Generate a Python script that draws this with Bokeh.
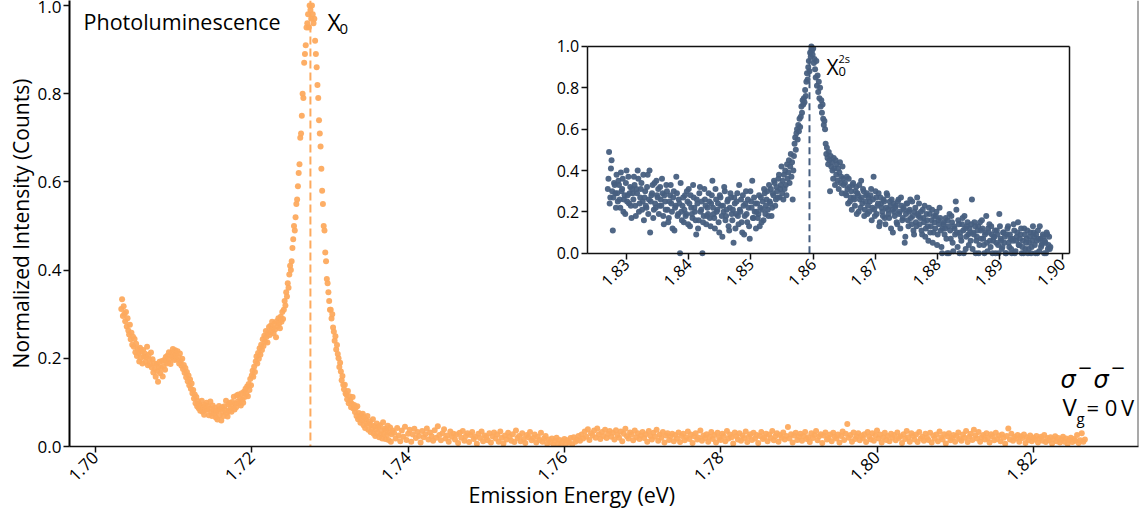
import math
from bokeh.plotting import figure
from bokeh.models import Range1d, LinearAxis, FixedTicker, PrintfTickFormatter, Span, Label, Title
from bokeh.embed import file_html
from bokeh.resources import INLINE

# ---------------- data: main photoluminescence spectrum ----------------
pl_energy = [
1.7033,1.7034,1.7035,1.7036,1.7037,1.7038,1.7039,1.7040,1.7041,1.7042,
1.7043,1.7044,1.7045,1.7046,1.7047,1.7048,1.7049,1.7050,1.7051,1.7052,
1.7053,1.7054,1.7055,1.7056,1.7057,1.7058,1.7059,1.7060,1.7061,1.7062,
1.7063,1.7064,1.7065,1.7066,1.7067,1.7068,1.7069,1.7070,1.7071,1.7072,
1.7073,1.7074,1.7075,1.7076,1.7077,1.7078,1.7079,1.7080,1.7081,1.7082,
1.7083,1.7084,1.7085,1.7086,1.7087,1.7088,1.7089,1.7090,1.7091,1.7092,
1.7093,1.7094,1.7095,1.7096,1.7097,1.7098,1.7099,1.7100,1.7101,1.7102,
1.7103,1.7104,1.7105,1.7106,1.7107,1.7108,1.7109,1.7110,1.7111,1.7112,
1.7113,1.7114,1.7115,1.7116,1.7117,1.7118,1.7119,1.7120,1.7121,1.7122,
1.7123,1.7124,1.7125,1.7126,1.7127,1.7128,1.7129,1.7130,1.7131,1.7132,
1.7133,1.7134,1.7135,1.7136,1.7137,1.7138,1.7139,1.7140,1.7141,1.7142,
1.7143,1.7144,1.7145,1.7146,1.7147,1.7148,1.7149,1.7150,1.7151,1.7152,
1.7153,1.7154,1.7155,1.7156,1.7157,1.7158,1.7159,1.7160,1.7161,1.7162,
1.7163,1.7164,1.7165,1.7166,1.7167,1.7168,1.7169,1.7170,1.7171,1.7172,
1.7173,1.7174,1.7175,1.7176,1.7177,1.7178,1.7179,1.7180,1.7181,1.7182,
1.7183,1.7184,1.7185,1.7186,1.7187,1.7188,1.7189,1.7190,1.7191,1.7192,
1.7193,1.7194,1.7195,1.7196,1.7197,1.7198,1.7199,1.7200,1.7201,1.7202,
1.7203,1.7204,1.7205,1.7206,1.7207,1.7208,1.7209,1.7210,1.7211,1.7212,
1.7213,1.7214,1.7215,1.7216,1.7217,1.7218,1.7219,1.7220,1.7221,1.7222,
1.7223,1.7224,1.7225,1.7226,1.7227,1.7228,1.7229,1.7230,1.7231,1.7232,
1.7233,1.7234,1.7235,1.7236,1.7237,1.7238,1.7239,1.7240,
1.7241,1.7242,1.7243,1.7244,1.7245,1.7246,1.7247,1.7248,1.7249,1.7250,
1.7251,1.7252,1.7253,1.7254,1.7255,1.7256,1.7257,1.7258,1.7259,1.7260,
1.7261,1.7262,1.7263,1.7264,1.7265,1.7266,1.7267,1.7268,1.7269,1.7270,
1.7271,1.7272,1.7273,1.7274,1.7275,1.7276,1.7277,1.7278,1.7279,1.7280,
1.7281,1.7282,1.7283,1.7284,1.7285,1.7286,1.7287,1.7288,1.7289,1.7290,
1.7291,1.7292,1.7293,1.7294,1.7295,1.7296,1.7297,1.7298,1.7299,1.7300,
1.7301,1.7302,1.7303,1.7304,1.7305,1.7306,1.7307,1.7308,1.7309,1.7310,
1.7311,1.7312,1.7313,1.7314,1.7315,1.7316,1.7317,1.7318,1.7319,1.7320,
1.7321,1.7322,1.7323,1.7324,1.7325,1.7326,1.7327,1.7328,1.7329,1.7330,
1.7331,1.7332,1.7333,1.7334,1.7335,1.7336,1.7337,1.7338,1.7339,1.7340,
1.7341,1.7342,1.7343,1.7344,1.7345,1.7346,1.7347,1.7348,1.7349,1.7350,
1.7351,1.7352,1.7353,1.7354,1.7355,1.7356,1.7357,1.7358,1.7359,1.7360,
1.7361,1.7362,1.7363,1.7364,1.7365,1.7366,1.7367,1.7368,1.7369,1.7370,
1.7371,1.7372,1.7373,1.7374,1.7375,1.7376,1.7377,1.7378,1.7379,1.7380,
1.7382,1.7384,1.7386,1.7388,1.7390,1.7392,1.7394,1.7396,1.7398,1.7400,1.7402,1.7404,1.7406,1.7408,1.7410,1.7412,1.7414,1.7416,1.7418,1.7420,
1.7422,1.7424,1.7426,1.7428,1.7430,1.7432,1.7434,1.7436,1.7438,1.7440,1.7442,1.7444,1.7446,1.7448,1.7450,1.7452,1.7454,1.7456,1.7458,1.7460,
1.7462,1.7464,1.7466,1.7468,1.7470,1.7472,1.7474,1.7476,1.7478,1.7480,1.7482,1.7484,1.7486,1.7488,1.7490,1.7492,1.7494,1.7496,1.7498,1.7500,
1.7502,1.7504,1.7506,1.7508,1.7510,1.7512,1.7514,1.7516,1.7518,1.7520,1.7522,1.7524,1.7526,1.7528,1.7530,1.7532,1.7534,1.7536,1.7538,1.7540,
1.7542,1.7544,1.7546,1.7548,1.7550,1.7552,1.7554,1.7556,1.7558,1.7560,1.7562,1.7564,1.7566,1.7568,1.7570,1.7572,1.7574,1.7576,1.7578,1.7580,
1.7582,1.7584,1.7586,1.7588,1.7590,1.7592,1.7594,1.7596,1.7598,1.7600,1.7602,1.7604,1.7606,1.7608,1.7610,1.7612,1.7614,1.7616,1.7618,1.7620,
1.7622,1.7624,1.7626,1.7628,1.7630,1.7632,1.7634,1.7636,1.7638,1.7640,1.7642,1.7644,1.7646,1.7648,1.7650,1.7652,1.7654,1.7656,1.7658,1.7660,
1.7662,1.7664,1.7666,1.7668,1.7670,1.7672,1.7674,1.7676,1.7678,1.7680,1.7682,1.7684,1.7686,1.7688,1.7690,1.7692,1.7694,1.7696,1.7698,1.7700,
1.7702,1.7704,1.7706,1.7708,1.7710,1.7712,1.7714,1.7716,1.7718,1.7720,1.7722,1.7724,1.7726,1.7728,1.7730,1.7732,1.7734,1.7736,1.7738,1.7740,
1.7742,1.7744,1.7746,1.7748,1.7750,1.7752,1.7754,1.7756,1.7758,1.7760,1.7762,1.7764,1.7766,1.7768,1.7770,1.7772,1.7774,1.7776,1.7778,1.7780,
1.7782,1.7784,1.7786,1.7788,1.7790,1.7792,1.7794,1.7796,1.7798,1.7800,1.7802,1.7804,1.7806,1.7808,1.7810,1.7812,1.7814,1.7816,1.7818,1.7820,
1.7822,1.7824,1.7826,1.7828,1.7830,1.7832,1.7834,1.7836,1.7838,1.7840,1.7842,1.7844,1.7846,1.7848,1.7850,1.7852,1.7854,1.7856,1.7858,1.7860,
1.7862,1.7864,1.7866,1.7868,1.7870,1.7872,1.7874,1.7876,1.7878,1.7880,1.7882,1.7884,1.7886,1.7888,1.7890,1.7892,1.7894,1.7896,1.7898,1.7900,
1.7902,1.7904,1.7906,1.7908,1.7910,1.7912,1.7914,1.7916,1.7918,1.7920,1.7922,1.7924,1.7926,1.7928,1.7930,1.7932,1.7934,1.7936,1.7938,1.7940,
1.7942,1.7944,1.7946,1.7948,1.7950,1.7952,1.7954,1.7956,1.7958,1.7960,1.7962,1.7964,1.7966,1.7968,1.7970,1.7972,1.7974,1.7976,1.7978,1.7980,
1.7982,1.7984,1.7986,1.7988,1.7990,1.7992,1.7994,1.7996,1.7998,1.8000,1.8002,1.8004,1.8006,1.8008,1.8010,1.8012,1.8014,1.8016,1.8018,1.8020,
1.8022,1.8024,1.8026,1.8028,1.8030,1.8032,1.8034,1.8036,1.8038,1.8040,1.8042,1.8044,1.8046,1.8048,1.8050,1.8052,1.8054,1.8056,1.8058,1.8060,
1.8062,1.8064,1.8066,1.8068,1.8070,1.8072,1.8074,1.8076,1.8078,1.8080,1.8082,1.8084,1.8086,1.8088,1.8090,1.8092,1.8094,1.8096,1.8098,1.8100,
1.8102,1.8104,1.8106,1.8108,1.8110,1.8112,1.8114,1.8116,1.8118,1.8120,1.8122,1.8124,1.8126,1.8128,1.8130,1.8132,1.8134,1.8136,1.8138,1.8140,
1.8142,1.8144,1.8146,1.8148,1.8150,1.8152,1.8154,1.8156,1.8158,1.8160,1.8162,1.8164,1.8166,1.8168,1.8170,1.8172,1.8174,1.8176,1.8178,1.8180,
1.8182,1.8184,1.8186,1.8188,1.8190,1.8192,1.8194,1.8196,1.8198,1.8200,1.8202,1.8204,1.8206,1.8208,1.8210,1.8212,1.8214,1.8216,1.8218,1.8220,
1.8222,1.8224,1.8226,1.8228,1.8230,1.8232,1.8234,1.8236,1.8238,1.8240,1.8242,1.8244,1.8246,1.8248,1.8250,1.8252,1.8254,1.8256,1.8258,1.8260,
1.8262,1.8264,1.8266,
]

pl_intensity = [
.312,.334,.296,.318,.301,.284,.305,.272,.291,.263,
.254,.276,.243,.258,.231,.249,.226,.244,.214,.233,
.205,.221,.212,.193,.224,.201,.215,.188,.219,.204,
.211,.192,.203,.226,.184,.208,.197,.186,.213,.179,
.198,.168,.189,.176,.158,.187,.171,.147,.181,.192,
.166,.178,.194,.159,.182,.196,.174,.203,.188,.206,
.191,.214,.198,.187,.212,.203,.221,.207,.196,.218,
.209,.197,.216,.203,.188,.211,.194,.183,.199,.176,
.185,.167,.178,.157,.169,.148,.161,.139,.152,.131,
.143,.121,.128,.109,.118,.098,.112,.091,.103,.087,
.096,.081,.092,.104,.079,.088,.072,.094,.083,.099,
.084,.091,.071,.086,.102,.077,.069,.093,.081,.074,
.088,.066,.079,.061,.083,.092,.071,.085,.059,.089,
.078,.069,.091,.082,.104,.076,.068,.095,.081,.099,
.087,.079,.101,.092,.113,.084,.097,.089,.116,.102,
.118,.098,.109,.093,.121,.106,.099,.124,.112,.131,
.119,.136,.114,.142,.128,.153,.139,.161,.172,.158,
.181,.169,.193,.204,.188,.212,.199,.223,.208,.231,
.219,.243,.228,.251,.238,.262,.249,.236,.258,.271,
.253,.274,.261,.283,.268,.257,.279,.266,.248,.284,
.272,.291,.279,.268,.294,.283,.305,.289,
.31,.33,.32,.35,.34,.37,.36,.39,.41,.40,
.42,.45,.47,.50,.49,.52,.55,.56,.59,.62,
.64,.70,.71,.75,.80,.79,.87,.89,.91,.95,
.96,.98,.95,1.0,.99,.97,1.0,.98,.96,.97,
.92,.89,.86,.82,.79,.74,.71,.68,.63,.58,
.55,.50,.49,.44,.42,.38,.37,.35,.33,.31,
.31,.29,.30,.27,.26,.24,.25,.22,.23,.21,
.20,.18,.19,.17,.15,.16,.14,.13,.14,.12,
.118,.107,.126,.098,.114,.103,.089,.097,.112,.086,
.094,.078,.088,.069,.091,.062,.076,.067,.054,.071,
.059,.074,.048,.066,.042,.061,.053,.069,.038,.051,
.057,.033,.049,.041,.062,.029,.046,.024,.039,.052,
.031,.044,.021,.048,.027,.036,.018,.055,.029,.041,
.017,.038,.026,.047,.015,.032,.043,.011,.028,.036,
.031,.018,.042,.025,.012,.036,.022,.045,.015,.029,.038,.011,.027,.040,.019,.033,.024,.009,.035,.021,
.028,.041,.016,.032,.024,.013,.037,.020,.046,.026,.014,.030,.039,.018,.025,.011,.034,.022,.029,.016,
.027,.008,.031,.020,.035,.013,.024,.030,.010,.026,.033,.017,.022,.006,.029,.019,.034,.012,.025,.021,
.014,.030,.009,.023,.032,.018,.027,.011,.034,.020,.007,.025,.016,.031,.022,.013,.028,.010,.036,.019,
.024,.012,.030,.017,.008,.026,.021,.033,.014,.019,.027,.009,.022,.015,.031,.011,.018,.024,.006,.016,
.010,.018,.004,.013,.020,.007,.015,.003,.012,.017,.006,.014,.009,.019,.005,.021,.011,.016,.024,.013,
.027,.018,.034,.022,.039,.015,.030,.025,.036,.020,.041,.028,.017,.033,.024,.038,.019,.029,.035,.022,
.031,.016,.037,.026,.020,.034,.012,.029,.040,.023,.018,.032,.027,.014,.036,.021,.030,.017,.025,.033,
.019,.028,.011,.035,.024,.016,.031,.022,.038,.013,.027,.020,.033,.009,.025,.030,.015,.023,.029,.012,
.026,.018,.032,.010,.024,.029,.014,.021,.034,.017,.027,.008,.023,.030,.016,.020,.036,.013,.025,.019,
.028,.011,.022,.033,.017,.026,.009,.031,.020,.015,.029,.024,.012,.035,.018,.027,.021,.007,.032,.023,
.016,.030,.013,.025,.019,.034,.010,.022,.028,.015,.031,.018,.026,.008,.024,.033,.017,.021,.029,.012,
.027,.019,.035,.014,.023,.030,.011,.026,.020,.032,.016,.024,.044,.018,.028,.009,.025,.031,.015,.022,
.029,.013,.024,.033,.017,.021,.010,.030,.019,.026,.035,.014,.023,.028,.008,.025,.032,.016,.020,.027,
.012,.031,.022,.018,.027,.009,.024,.034,.015,.029,.051,.020,.026,.011,.032,.017,.023,.030,.014,.025,
.019,.028,.010,.033,.022,.016,.030,.013,.025,.036,.018,.027,.009,.021,.031,.015,.024,.012,.029,.020,
.026,.014,.032,.019,.023,.008,.028,.017,.035,.021,.011,.030,.024,.016,.027,.010,.033,.018,.022,.013,
.029,.020,.015,.031,.009,.025,.018,.027,.012,.034,.021,.016,.028,.007,.023,.030,.014,.019,.026,.011,
.024,.032,.017,.013,.027,.020,.035,.010,.022,.029,.015,.038,.025,.018,.033,.011,.021,.026,.016,.030,
.019,.009,.028,.023,.014,.031,.017,.025,.012,.027,.020,.006,.024,.041,.016,.029,.013,.022,.018,.026,
.011,.023,.019,.027,.008,.021,.015,.025,.012,.020,.016,.024,.009,.018,.022,.013,.026,.010,.019,.014,
.021,.007,.017,.023,.012,.019,.009,.016,.022,.011,.018,.006,.015,.020,.010,.017,.013,.026,.008,.014,
.030,.011,.016,
]

# ---------------- data: inset, 2s exciton region ----------------
s2_energy = [
1.8270,1.8272,1.8274,1.8276,1.8278,1.8280,1.8282,1.8284,1.8286,1.8288,1.8290,1.8292,1.8294,1.8296,1.8298,1.8300,1.8302,1.8304,1.8306,1.8308,
1.8310,1.8312,1.8314,1.8316,1.8318,1.8320,1.8322,1.8324,1.8326,1.8328,1.8330,1.8332,1.8334,1.8336,1.8338,1.8340,1.8342,1.8344,1.8346,1.8348,
1.8350,1.8352,1.8354,1.8356,1.8358,1.8360,1.8362,1.8364,1.8366,1.8368,1.8370,1.8372,1.8374,1.8376,1.8378,1.8380,1.8382,1.8384,1.8386,1.8388,
1.8390,1.8392,1.8394,1.8396,1.8398,1.8400,1.8402,1.8404,1.8406,1.8408,1.8410,1.8412,1.8414,1.8416,1.8418,1.8420,1.8422,1.8424,1.8426,1.8428,
1.8430,1.8432,1.8434,1.8436,1.8438,1.8440,1.8442,1.8444,1.8446,1.8448,1.8450,1.8452,1.8454,1.8456,1.8458,1.8460,1.8462,1.8464,1.8466,1.8468,
1.8470,1.8472,1.8474,1.8476,1.8478,1.8480,1.8482,1.8484,1.8486,1.8488,1.8490,1.8492,1.8494,1.8496,1.8498,1.8500,1.8502,1.8504,1.8506,1.8508,
1.8510,1.8512,1.8514,1.8516,1.8518,1.8520,1.8522,1.8524,1.8526,1.8528,1.8530,1.8532,1.8534,1.8536,1.8538,1.8540,1.8542,1.8544,1.8546,1.8548,
1.8550,1.8551,1.8552,1.8553,1.8554,1.8555,1.8556,1.8557,1.8558,1.8559,
1.8560,1.8561,1.8562,1.8563,1.8564,1.8565,1.8566,1.8567,1.8568,1.8569,
1.8570,1.8571,1.8572,1.8573,1.8574,1.8575,1.8576,1.8577,1.8578,1.8579,
1.8580,1.8581,1.8582,1.8583,1.8584,1.8585,1.8586,1.8587,1.8588,1.8589,
1.8590,1.8591,1.8592,1.8593,1.8594,1.8595,1.8596,1.8597,1.8598,1.8599,
1.8600,1.8601,1.8602,1.8603,1.8604,1.8605,1.8606,1.8607,1.8608,1.8609,
1.8610,1.8611,1.8612,1.8613,1.8614,1.8615,1.8616,1.8617,1.8618,1.8619,
1.8620,1.8621,1.8622,1.8623,1.8624,1.8625,1.8626,1.8627,1.8628,1.8629,
1.8630,1.8631,1.8632,1.8633,1.8634,1.8635,1.8636,1.8637,1.8638,1.8639,
1.8640,1.8641,1.8642,1.8643,1.8644,1.8645,1.8646,1.8647,1.8648,1.8649,
1.8651,1.8653,1.8655,1.8657,1.8659,1.8661,1.8663,1.8665,1.8667,1.8669,1.8671,1.8673,1.8675,1.8677,1.8679,1.8681,1.8683,1.8685,1.8687,1.8689,
1.8691,1.8693,1.8695,1.8697,1.8699,1.8701,1.8703,1.8705,1.8707,1.8709,1.8711,1.8713,1.8715,1.8717,1.8719,1.8721,1.8723,1.8725,1.8727,1.8729,
1.8731,1.8733,1.8735,1.8737,1.8739,1.8741,1.8743,1.8745,1.8747,1.8749,1.8751,1.8753,1.8755,1.8757,1.8759,1.8761,1.8763,1.8765,1.8767,1.8769,
1.8771,1.8773,1.8775,1.8777,1.8779,1.8781,1.8783,1.8785,1.8787,1.8789,1.8791,1.8793,1.8795,1.8797,1.8799,1.8801,1.8803,1.8805,1.8807,1.8809,
1.8811,1.8813,1.8815,1.8817,1.8819,1.8821,1.8823,1.8825,1.8827,1.8829,1.8831,1.8833,1.8835,1.8837,1.8839,1.8841,1.8843,1.8845,1.8847,1.8849,
1.8851,1.8853,1.8855,1.8857,1.8859,1.8861,1.8863,1.8865,1.8867,1.8869,1.8871,1.8873,1.8875,1.8877,1.8879,1.8881,1.8883,1.8885,1.8887,1.8889,
1.8891,1.8893,1.8895,1.8897,1.8899,1.8901,1.8903,1.8905,1.8907,1.8909,1.8911,1.8913,1.8915,1.8917,1.8919,1.8921,1.8923,1.8925,1.8927,1.8929,
1.8931,1.8933,1.8935,1.8937,1.8939,1.8941,1.8943,1.8945,1.8947,1.8949,1.8951,1.8953,1.8955,1.8957,1.8959,1.8961,1.8963,1.8965,1.8967,1.8969,
1.8971,1.8973,1.8975,1.8977,1.8979,1.8981,
1.8271,1.8273,1.8275,1.8277,1.8279,1.8281,1.8283,1.8285,1.8287,1.8289,1.8291,1.8293,1.8295,1.8297,1.8299,1.8301,1.8303,1.8305,1.8307,1.8309,
1.8311,1.8313,1.8315,1.8317,1.8319,1.8321,1.8323,1.8325,1.8327,1.8329,1.8331,1.8333,1.8335,1.8337,1.8339,1.8341,1.8343,1.8345,1.8347,1.8349,
1.8351,1.8353,1.8355,1.8357,1.8359,1.8361,1.8363,1.8365,1.8367,1.8369,1.8371,1.8373,1.8375,1.8377,1.8379,1.8381,1.8383,1.8385,1.8387,1.8389,
1.8391,1.8393,1.8395,1.8397,1.8399,1.8401,1.8403,1.8405,1.8407,1.8409,1.8411,1.8413,1.8415,1.8417,1.8419,1.8421,1.8423,1.8425,1.8427,1.8429,
1.8431,1.8433,1.8435,1.8437,1.8439,1.8441,1.8443,1.8445,1.8447,1.8449,1.8451,1.8453,1.8455,1.8457,1.8459,1.8461,1.8463,1.8465,1.8467,1.8469,
1.8471,1.8473,1.8475,1.8477,1.8479,1.8481,1.8483,1.8485,1.8487,1.8489,1.8491,1.8493,1.8495,1.8497,1.8499,1.8501,1.8503,1.8505,1.8507,1.8509,
1.8511,1.8513,1.8515,1.8517,1.8519,1.8521,1.8523,1.8525,1.8527,1.8529,1.8531,1.8533,1.8535,1.8537,1.8539,1.8541,1.8543,1.8545,1.8547,1.8549,
1.8652,1.8654,1.8656,1.8658,1.8660,1.8662,1.8664,1.8666,1.8668,1.8670,1.8672,1.8674,1.8676,1.8678,1.8680,1.8682,1.8684,1.8686,1.8688,1.8690,
1.8692,1.8694,1.8696,1.8698,1.8700,1.8702,1.8704,1.8706,1.8708,1.8710,1.8712,1.8714,1.8716,1.8718,1.8720,1.8722,1.8724,1.8726,1.8728,1.8730,
1.8732,1.8734,1.8736,1.8738,1.8740,1.8742,1.8744,1.8746,1.8748,1.8750,1.8752,1.8754,1.8756,1.8758,1.8760,1.8762,1.8764,1.8766,1.8768,1.8770,
1.8772,1.8774,1.8776,1.8778,1.8780,1.8782,1.8784,1.8786,1.8788,1.8790,1.8792,1.8794,1.8796,1.8798,1.8800,1.8802,1.8804,1.8806,1.8808,1.8810,
1.8812,1.8814,1.8816,1.8818,1.8820,1.8822,1.8824,1.8826,1.8828,1.8830,1.8832,1.8834,1.8836,1.8838,1.8840,1.8842,1.8844,1.8846,1.8848,1.8850,
1.8852,1.8854,1.8856,1.8858,1.8860,1.8862,1.8864,1.8866,1.8868,1.8870,1.8872,1.8874,1.8876,1.8878,1.8880,1.8882,1.8884,1.8886,1.8888,1.8890,
1.8892,1.8894,1.8896,1.8898,1.8900,1.8902,1.8904,1.8906,1.8908,1.8910,1.8912,1.8914,1.8916,1.8918,1.8920,1.8922,1.8924,1.8926,1.8928,1.8930,
1.8932,1.8934,1.8936,1.8938,1.8940,1.8942,1.8944,1.8946,1.8948,1.8950,1.8952,1.8954,1.8956,1.8958,1.8960,1.8962,1.8964,1.8966,1.8968,1.8970,
1.8972,1.8974,1.8976,1.8978,1.8980,
]

s2_intensity = [
.31,.49,.27,.45,.11,.34,.29,.38,.25,.33,.22,.30,.36,.26,.19,.40,.28,.24,.32,.17,
.29,.37,.23,.31,.40,.20,.27,.34,.25,.16,.30,.22,.38,.26,.10,.28,.33,.21,.24,.35,
.27,.19,.32,.23,.29,.14,.25,.33,.21,.17,.28,.24,.12,.30,.22,.37,.18,.26,.00,.20,
.23,.15,.28,.19,.25,.31,.13,.22,.17,.27,.20,.09,.24,.16,.32,.21,.00,.18,.26,.14,
.22,.29,.17,.24,.35,.19,.12,.26,.21,.15,.28,.23,.08,.20,.30,.18,.25,.13,.22,.27,
.16,.05,.24,.19,.29,.14,.21,.26,.10,.23,.18,.30,.15,.22,.07,.25,.35,.17,.20,.12,
.24,.19,.13,.27,.21,.16,.29,.23,.30,.18,.25,.31,.22,.28,.34,.26,.30,.36,.27,.33,
.29,.35,.26,.38,.31,.40,.33,.28,.43,.36,
.39,.45,.34,.42,.48,.37,.44,.26,.40,.47,
.53,.56,.50,.58,.60,.55,.62,.59,.65,.61,
.66,.71,.68,.74,.72,.75,.73,.79,.76,.83,
.87,.84,.90,.93,.88,.97,.95,1.0,.98,.96,
.99,.92,.94,.89,.85,.93,.81,.86,.78,.83,
.75,.80,.71,.74,.68,.72,.65,.62,.64,.60,
.53,.48,.51,.46,.43,.49,.45,.30,.47,.42,
.44,.40,.36,.46,.41,.33,.45,.38,.43,.35,
.41,.31,.39,.44,.34,.37,.29,.42,.36,.33,
.34,.28,.31,.36,.25,.30,.33,.27,.23,.32,.29,.20,.26,.35,.24,.30,.21,.28,.19,.27,
.25,.31,.22,.37,.18,.27,.23,.29,.15,.24,.20,.26,.17,.22,.28,.19,.25,.12,.21,.24,
.18,.23,.14,.26,.20,.27,.16,.22,.05,.19,.24,.13,.21,.17,.25,.11,.20,.15,.27,.18,
.14,.20,.09,.17,.23,.12,.16,.06,.19,.13,.21,.10,.15,.18,.04,.16,.22,.11,.00,.14,
.09,.17,.00,.13,.19,.07,.15,.01,.12,.25,.10,.16,.00,.08,.14,.11,.18,.02,.13,.09,
.12,.06,.26,.10,.15,.00,.08,.13,.04,.11,.16,.07,.00,.10,.05,.12,.14,.03,.09,.06,
.08,.00,.11,.04,.19,.07,.02,.10,.05,.00,.09,.13,.03,.07,.00,.06,.11,.01,.08,.15,
.04,.09,.00,.06,.12,.02,.07,.00,.05,.10,.03,.13,.08,.00,.06,.11,.01,.07,.04,.09,
.00,.05,.10,.02,.08,.03,
.36,.24,.41,.30,.27,.33,.22,.29,.35,.26,.39,.31,.20,.28,.34,.25,.37,.29,.23,.31,
.26,.33,.18,.29,.36,.24,.31,.21,.38,.27,.23,.32,.19,.40,.25,.29,.17,.34,.22,.28,
.31,.23,.26,.36,.18,.28,.21,.30,.15,.25,.33,.20,.27,.11,.23,.29,.19,.24,.34,.16,
.27,.21,.18,.30,.14,.24,.28,.19,.33,.22,.16,.26,.12,.29,.20,.25,.15,.31,.23,.18,
.19,.25,.13,.28,.22,.17,.31,.20,.24,.10,.27,.18,.23,.32,.16,.21,.26,.11,.29,.19,
.21,.27,.12,.25,.18,.33,.20,.15,.28,.09,.24,.19,.26,.13,.30,.22,.17,.27,.24,.20,
.17,.28,.22,.15,.25,.31,.19,.26,.21,.33,.24,.18,.29,.35,.23,.32,.27,.38,.31,.42,
.29,.37,.24,.32,.27,.21,.34,.26,.30,.19,.28,.33,.22,.27,.31,.18,.25,.29,.23,.20,
.28,.16,.26,.21,.30,.19,.24,.13,.27,.22,.18,.25,.14,.29,.21,.17,.23,.26,.10,.20,
.22,.15,.25,.19,.12,.23,.17,.21,.08,.24,.16,.20,.26,.14,.18,.09,.22,.13,.19,.24,
.17,.11,.21,.15,.08,.19,.13,.22,.10,.16,.05,.18,.12,.20,.09,.14,.17,.03,.12,.15,
.12,.07,.16,.00,.11,.18,.05,.13,.09,.21,.03,.14,.10,.06,.17,.00,.12,.08,.15,.04,
.10,.14,.02,.09,.13,.06,.11,.00,.15,.07,.12,.04,.09,.18,.01,.10,.06,.13,.00,.08,
.11,.05,.09,.00,.13,.06,.03,.10,.08,.00,.12,.05,.09,.02,.07,.14,.00,.06,.10,.04,
.07,.12,.03,.00,.09,.05,.11,.02,.08,.00,.06,.10,.04,.09,.00,.07,.13,.03,.05,.08,
.06,.00,.09,.04,.02,
]

# ---------------- ticks and reference energies ----------------
main_x_ticks = [1.70, 1.72, 1.74, 1.76, 1.78, 1.80, 1.82]
main_y_ticks = [0.0, 0.2, 0.4, 0.6, 0.8, 1.0]
inset_x_ticks = [1.83, 1.84, 1.85, 1.86, 1.87, 1.88, 1.89, 1.90]
inset_y_ticks = [0.0, 0.2, 0.4, 0.6, 0.8, 1.0]
x0_energy = 1.7275
x0_2s_energy = 1.8594

# ---------------- layout / style ----------------
ORANGE = "#fdaa5e"
SLATE = "#475f80"
FONT = "Open Sans"

MX0, MX1 = 1.696673, 1.833461
MY0, MY1 = 0.0, 1.01134
IX0, IX1 = 1.82369, 1.90122          # inset box (inset x units)
IY0, IY1 = 0.0, 1.0                  # inset box (inset y units)

p = figure(frame_width=1069, frame_height=446, output_backend="svg",
           toolbar_location=None, x_range=Range1d(MX0, MX1), y_range=Range1d(MY0, MY1),
           min_border_left=69, min_border_right=2, min_border_top=0, min_border_bottom=64,
           outline_line_color=None, background_fill_color="white", border_fill_color="white")
p.xgrid.visible = False
p.ygrid.visible = False

p.extra_x_ranges = {"ix": Range1d(1.740508, 1.912262)}
p.extra_y_ranges = {"iy": Range1d(-0.93517, 1.22254)}


def style_axis(ax, label_size="17px"):
    ax.major_tick_out = 6
    ax.major_tick_in = 0
    ax.minor_tick_line_color = None
    ax.major_tick_line_color = "#111111"
    ax.major_tick_line_width = 1.5
    ax.axis_line_color = "#111111"
    ax.axis_line_width = 1.5
    ax.major_label_text_font = FONT
    ax.major_label_text_font_size = label_size
    ax.major_label_text_color = "black"
    ax.axis_label_text_font = FONT
    ax.axis_label_text_font_size = "21px"
    ax.axis_label_text_font_style = "normal"
    ax.axis_label_text_color = "black"


xa = p.below[0]
ya = p.left[0]
style_axis(xa)
style_axis(ya)
xa.ticker = FixedTicker(ticks=main_x_ticks)
xa.formatter = PrintfTickFormatter(format="%.2f")
xa.major_label_orientation = math.pi / 4
xa.major_label_standoff = 2
ya.ticker = FixedTicker(ticks=main_y_ticks)
ya.formatter = PrintfTickFormatter(format="%.1f")
ya.major_label_standoff = 2
ya.axis_label = "Normalized Intensity (Counts)"
ya.axis_label_standoff = 0
ya.axis_line_color = "black"
ya.axis_line_width = 2

# x-axis title, placed in the panel below the axis, left-aligned with an offset
xtitle = Title(text="Emission Energy (eV)", align="left", offset=399, standoff=-23,
               text_font=FONT, text_font_size="21.5px", text_font_style="normal",
               text_color="black")
p.add_layout(xtitle, "below")

# right border of the main frame
rb = LinearAxis(fixed_location=MX1, ticker=FixedTicker(ticks=[]),
                axis_line_color="#555555", axis_line_width=2)
p.add_layout(rb, "right")

# main data
span = Span(location=x0_energy, dimension="height", line_color=ORANGE,
            line_dash="8 4", line_width=2, level="underlay")
p.add_layout(span)
p.scatter(pl_energy, pl_intensity, size=6, fill_color=ORANGE, line_color=None, fill_alpha=0.95)

# inset axes
iax = LinearAxis(x_range_name="ix", y_range_name="iy", fixed_location=IY0, bounds=(IX0, IX1),
                 ticker=FixedTicker(ticks=inset_x_ticks), formatter=PrintfTickFormatter(format="%.2f"))
style_axis(iax, "16px")
iax.major_label_orientation = math.pi / 4
iax.major_label_standoff = 2
p.add_layout(iax, "below")

iay = LinearAxis(x_range_name="ix", y_range_name="iy", fixed_location=IX0, bounds=(IY0, IY1),
                 ticker=FixedTicker(ticks=inset_y_ticks), formatter=PrintfTickFormatter(format="%.1f"))
style_axis(iay, "16px")
iay.major_label_standoff = 2
p.add_layout(iay, "left")

itop = LinearAxis(x_range_name="ix", y_range_name="iy", fixed_location=IY1, bounds=(IX0, IX1),
                  ticker=FixedTicker(ticks=[]), axis_line_color="#111111", axis_line_width=1.5)
p.add_layout(itop, "above")
iright = LinearAxis(x_range_name="ix", y_range_name="iy", fixed_location=IX1, bounds=(IY0, IY1),
                    ticker=FixedTicker(ticks=[]), axis_line_color="#111111", axis_line_width=1.5)
p.add_layout(iright, "right")

p.segment(x0=[x0_2s_energy], y0=[IY0], x1=[x0_2s_energy], y1=[IY1],
          x_range_name="ix", y_range_name="iy", line_color=SLATE, line_width=2, line_dash="7 4")
p.scatter(s2_energy, s2_intensity, x_range_name="ix", y_range_name="iy",
          size=6, fill_color=SLATE, line_color=None, fill_alpha=0.95)

# ---------------- annotations ----------------
def lab(x, y, text, size, font=FONT, style="normal", rx=None, ry=None, align="left"):
    kw = dict(x=x, y=y, text=text, text_font=font, text_font_size=size,
              text_font_style=style, text_baseline="middle", text_align=align,
              text_color="black")
    if rx:
        kw["x_range_name"] = rx
        kw["y_range_name"] = ry
    p.add_layout(Label(**kw))

lab(1.69847, 0.9637, "Photoluminescence", "21.5px")
lab(1.72969, 0.9615, "X", "23px")
lab(1.73122, 0.9478, "0", "15px")

lab(1.82348, 0.1519, "σ", "24px", font="DejaVu Sans", style="italic")
lab(1.82565, 0.1790, "−", "18px", font="DejaVu Sans")
lab(1.82770, 0.1519, "σ", "24px", font="DejaVu Sans", style="italic")
lab(1.82987, 0.1790, "−", "18px", font="DejaVu Sans")
lab(1.82374, 0.0907, "V", "24px")
lab(1.82553, 0.0635, "g", "15px")
lab(1.82680, 0.0907, "= 0\u2009V", "22px")

lab(1.86213, 0.903, "X", "21px", rx="ix", ry="iy")
lab(1.86406, 0.879, "0", "13px", rx="ix", ry="iy")
lab(1.86406, 0.942, "2s", "11px", rx="ix", ry="iy")

open("out.html", "w").write(file_html(p, INLINE))
